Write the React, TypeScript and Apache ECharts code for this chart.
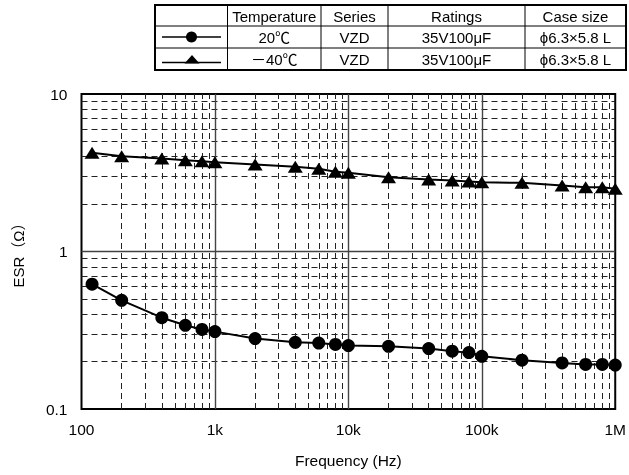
import React, { useEffect, useRef } from "react";
import * as echarts from "echarts";

// ---- data ----
const freqs = [120, 200, 400, 600, 800, 1000, 2000, 4000, 6000, 8000, 10000, 20000, 40000, 60000, 80000, 100000, 200000, 400000, 600000, 800000, 1000000];
const esr20 = [0.62, 0.49, 0.38, 0.34, 0.32, 0.31, 0.28, 0.265, 0.262, 0.257, 0.253, 0.25, 0.242, 0.233, 0.228, 0.216, 0.204, 0.196, 0.192, 0.192, 0.19];
const esrM40 = [4.24, 4.03, 3.89, 3.8, 3.74, 3.69, 3.57, 3.45, 3.35, 3.21, 3.16, 2.96, 2.86, 2.82, 2.78, 2.75, 2.73, 2.62, 2.56, 2.56, 2.5];

const xTickValues = [100, 1000, 10000, 100000, 1000000];
const xTickLabels = ["100", "1k", "10k", "100k", "1M"];
const yTickValues = [0.1, 1, 10];
const yTickLabels = ["0.1", "1", "10"];

const minorX = [200, 300, 400, 500, 600, 700, 800, 900, 2000, 3000, 4000, 5000, 6000, 7000, 8000, 9000, 20000, 30000, 40000, 50000, 60000, 70000, 80000, 90000, 200000, 300000, 400000, 500000, 600000, 700000, 800000, 900000];
const majorX = [1000, 10000, 100000];
const minorY = [0.2, 0.3, 0.4, 0.5, 0.6, 0.7, 0.8, 0.9, 2, 3, 4, 5, 6, 7, 8, 9];
const majorY = [1];

const tableHeaders = ["", "Temperature", "Series", "Ratings", "Case size"];
const tableRow1 = ["20℃", "VZD", "35V100μF", "ϕ6.3×5.8 L"];
const tableRow2 = ["－40℃", "VZD", "35V100μF", "ϕ6.3×5.8 L"];

const FONT = "Liberation Sans, Noto Sans CJK JP, sans-serif";

export default function App() {
  const ref = useRef<HTMLDivElement>(null);
  useEffect(() => {
    if (!ref.current) return;
    const chart = echarts.init(ref.current, undefined, { renderer: "svg" });

    const dashed = { type: [6, 4] as any, color: "#222", width: 1 };
    const solid = { type: "solid" as any, color: "#444", width: 1.4 };

    const cols = [155, 227.5, 321, 388, 525, 626];
    const rows = [5, 26, 48, 70];
    const graphics: any[] = [];
    graphics.push({
      type: "rect",
      shape: { x: cols[0], y: rows[0], width: cols[5] - cols[0], height: rows[3] - rows[0] },
      style: { fill: "#fff", stroke: "#000", lineWidth: 2 },
      z: 10,
    });
    for (let i = 1; i < cols.length - 1; i++) {
      graphics.push({
        type: "line",
        shape: { x1: cols[i], y1: rows[0], x2: cols[i], y2: rows[3] },
        style: { stroke: "#000", lineWidth: 1 },
        z: 11,
      });
    }
    for (let j = 1; j < rows.length - 1; j++) {
      graphics.push({
        type: "line",
        shape: { x1: cols[0], y1: rows[j], x2: cols[5], y2: rows[j] },
        style: { stroke: "#000", lineWidth: 1 },
        z: 11,
      });
    }
    const textRows = [tableHeaders, ["", ...tableRow1], ["", ...tableRow2]];
    textRows.forEach((r, j) => {
      r.forEach((t, i) => {
        if (!t) return;
        graphics.push({
          type: "text",
          x: (cols[i] + cols[i + 1]) / 2,
          y: (rows[j] + rows[j + 1]) / 2 + 0.5,
          style: { text: t, fontSize: 15, fontFamily: FONT, fill: "#000", align: "center", verticalAlign: "middle" },
          z: 12,
        });
      });
    });
    graphics.push({ type: "line", shape: { x1: 162, y1: 37, x2: 221, y2: 37 }, style: { stroke: "#000", lineWidth: 1.5 }, z: 12 });
    graphics.push({ type: "circle", shape: { cx: 191.5, cy: 37, r: 5.5 }, style: { fill: "#000" }, z: 12 });
    graphics.push({ type: "line", shape: { x1: 162, y1: 62.5, x2: 221, y2: 62.5 }, style: { stroke: "#000", lineWidth: 1.5 }, z: 12 });
    graphics.push({ type: "polygon", shape: { points: [[192, 55], [199.5, 63.5], [184.5, 63.5]] }, style: { fill: "#000" }, z: 12 });

    chart.setOption({
      animation: false,
      textStyle: { fontFamily: FONT },
      grid: { left: 81.5, right: 12, top: 94, bottom: 66, show: true, borderColor: "#000", borderWidth: 2, backgroundColor: "transparent" },
      xAxis: {
        type: "log",
        logBase: 10,
        min: 100,
        max: 1000000,
        name: "Frequency (Hz)",
        nameLocation: "middle",
        nameGap: 44,
        nameTextStyle: { fontSize: 15.5, color: "#000", fontFamily: FONT },
        axisLine: { show: false },
        axisTick: { show: false },
        splitLine: { show: false },
        axisLabel: {
          fontSize: 15.5,
          color: "#000",
          margin: 13,
          fontFamily: FONT,
          formatter: (v: number) => {
            const i = xTickValues.findIndex((t) => Math.abs(Math.log10(t) - Math.log10(v)) < 1e-6);
            return i >= 0 ? xTickLabels[i] : "";
          },
        },
      },
      yAxis: {
        type: "log",
        logBase: 10,
        min: 0.1,
        max: 10,
        name: "ESR（Ω）",
        nameLocation: "middle",
        nameGap: 56,
        nameRotate: 90,
        nameTextStyle: { fontSize: 15, color: "#000", fontFamily: FONT },
        axisLine: { show: false },
        axisTick: { show: false },
        splitLine: { show: false },
        axisLabel: {
          fontSize: 15.5,
          color: "#000",
          margin: 14,
          fontFamily: FONT,
          formatter: (v: number) => {
            const i = yTickValues.findIndex((t) => Math.abs(Math.log10(t) - Math.log10(v)) < 1e-6);
            return i >= 0 ? yTickLabels[i] : "";
          },
        },
      },
      graphic: graphics,
      series: [
        {
          type: "line",
          data: [],
          silent: true,
          z: 1,
          markLine: {
            silent: true,
            symbol: ["none", "none"],
            label: { show: false },
            emphasis: { disabled: true },
            animation: false,
            data: [
              ...minorX.map((v) => ({ xAxis: v, lineStyle: dashed })),
              ...minorY.map((v) => ({ yAxis: v, lineStyle: dashed })),
              ...majorX.map((v) => ({ xAxis: v, lineStyle: solid })),
              ...majorY.map((v) => ({ yAxis: v, lineStyle: solid })),
            ],
          },
        },
        {
          name: "20℃",
          type: "line",
          z: 5,
          data: freqs.map((f, i) => [f, esr20[i]]),
          symbol: "circle",
          symbolSize: 13,
          lineStyle: { color: "#000", width: 2 },
          itemStyle: { color: "#000" },
        },
        {
          name: "－40℃",
          type: "line",
          z: 5,
          data: freqs.map((f, i) => [f, esrM40[i]]),
          symbol: "triangle",
          symbolSize: [15, 12],
          lineStyle: { color: "#000", width: 2 },
          itemStyle: { color: "#000" },
        },
      ],
    });
    return () => chart.dispose();
  }, []);
  return <div ref={ref} style={{ position: "fixed", left: 0, top: 0, width: 629, height: 475 }} />;
}
